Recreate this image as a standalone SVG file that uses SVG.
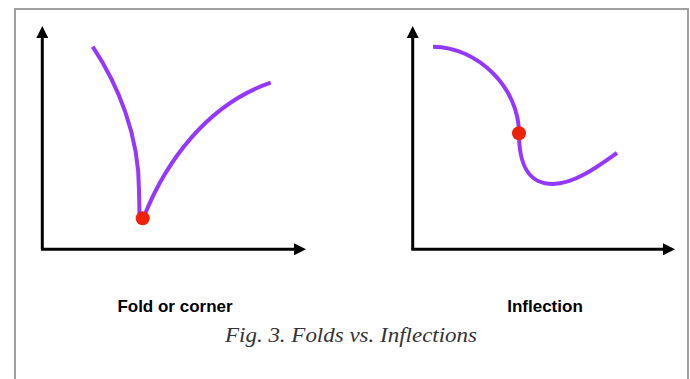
<svg xmlns="http://www.w3.org/2000/svg" width="690" height="379" viewBox="0 0 690 379">
  <style>
    .axis { stroke: #000; stroke-width: 3; fill: none; }
    .curve { stroke: #9437FF; stroke-width: 4; fill: none; stroke-linecap: butt; }
    .dot { fill: #EE220C; }
    .label { font-family: "Liberation Sans", Arial, sans-serif; font-weight: bold; font-size: 17px; fill: #000; text-anchor: middle; }
    .caption { font-family: "Liberation Serif", "Times New Roman", serif; font-style: italic; font-size: 22px; fill: #333; text-anchor: middle; }
  </style>
  <defs>
    <marker id="arrow" viewBox="0 0 12 12" refX="0" refY="6" markerWidth="12" markerHeight="12" markerUnits="userSpaceOnUse" orient="auto">
      <path d="M0,0 L12,6 L0,12 Z" fill="#000"/>
    </marker>
  </defs>
  <rect x="0" y="0" width="690" height="379" fill="#fff"/>
  <rect x="15" y="9" width="673" height="380" fill="#fff" stroke="#a0a0a0" stroke-width="2"/>

  <g id="fold-plot">
    <path class="axis" d="M42.3,249.3 L42.3,38" marker-end="url(#arrow)"/>
    <path class="axis" d="M41,249.3 L294,249.3" marker-end="url(#arrow)"/>
    <path class="curve" d="M92.7,46.7 C118,85 139,135 139,190 L139.5,214"/>
    <path class="curve" d="M145,214 C165,165 205,105 270.7,82.7"/>
    <circle class="dot" cx="142.7" cy="218.3" r="7"/>
    <text class="label" x="175" y="311.7">Fold or corner</text>
  </g>

  <g id="inflection-plot">
    <path class="axis" d="M412.7,249.3 L412.7,38" marker-end="url(#arrow)"/>
    <path class="axis" d="M411.3,249.3 L663,249.3" marker-end="url(#arrow)"/>
    <path class="curve" d="M433,46.7 C478,47 519,88 519,133.3 C519,165 528,184 553,184 C575,184 600,165 617,153"/>
    <circle class="dot" cx="519" cy="133.3" r="7"/>
    <text class="label" x="545" y="311.7">Inflection</text>
  </g>

  <g id="caption">
    <text class="caption" x="351" y="341.5" textLength="252" lengthAdjust="spacingAndGlyphs">Fig. 3. Folds vs. Inflections</text>
  </g>
</svg>
